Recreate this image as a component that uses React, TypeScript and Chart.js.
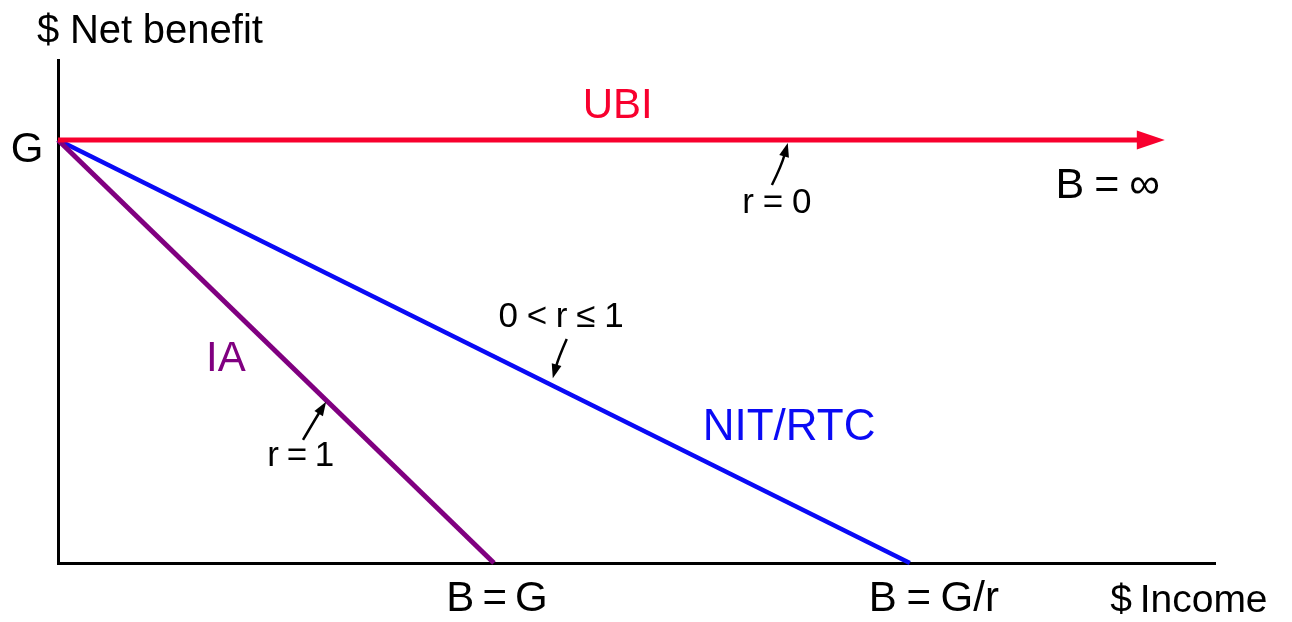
import React, { useEffect, useRef } from "react";
import { Chart, registerables } from "chart.js";

Chart.register(...registerables);

// ---- data (income and benefit in units of G) ----
const incomeAxisMax = 2.654;
const benefitAxisMax = 1.189;

const ubiIncome = [0, 2.477];
const ubiBenefit = [1, 1];
const iaIncome = [0, 1];
const iaBenefit = [1, 0];
const nitIncome = [0, 1.954];
const nitBenefit = [1, 0];

const seriesNames = ["UBI", "IA", "NIT/RTC"];
const seriesColors = ["#f8002e", "#800080", "#0a0af5"];

// text labels placed in data coordinates
const labelTexts = ["$ Net benefit", "G", "UBI", "B = \u221E", "r = 0", "0 < r \u2264 1", "IA", "NIT/RTC", "r = 1", "B = G", "B = G/r", "$ Income"];
const labelX = [-0.048, -0.071, 1.284, 2.408, 1.649, 1.154, 0.385, 1.677, 0.557, 1.007, 2.009, 2.594];
const labelY = [1.229, 0.948, 1.052, 0.863, 0.827, 0.558, 0.454, 0.291, 0.229, -0.113, -0.113, -0.116];
const labelColors = ["#000", "#000", "#f8002e", "#000", "#000", "#000", "#800080", "#0a0af5", "#000", "#000", "#000", "#000"];
const labelSizes = [40, 42, 42, 43, 35, 35, 42, 44, 35, 42, 42, 39];
const labelWordSpacing = [-0.5, 0, 0, -2, -1, -1, 0, 0, -2, -3.5, -2, -3];
const labelAlign = ["left", "center", "center", "center", "center", "center", "center", "center", "center", "center", "center", "center"];

// pointer arrows (tail -> tip), with a control point for a slight curve
const pointerTailX = [1.6376, 1.167, 0.562];
const pointerTailY = [0.8936, 0.5296, 0.291];
const pointerCtrlX = [1.660, 1.148, 0.590];
const pointerCtrlY = [0.940, 0.485, 0.340];
const pointerTipX = [1.674, 1.135, 0.615];
const pointerTipY = [0.993, 0.437, 0.381];

const toPoints = (xs: number[], ys: number[]) => xs.map((x, i) => ({ x, y: ys[i] }));

const FONT = "'Liberation Sans', Arial, Helvetica, sans-serif";

const annotationPlugin = {
  id: "annotations",
  afterDatasetsDraw(chart: any) {
    const ctx = chart.ctx as any;
    const xs = chart.scales.x;
    const ys = chart.scales.y;
    ctx.save();

    // arrowhead on UBI line
    const meta = chart.getDatasetMeta(0);
    const last = meta.data[meta.data.length - 1];
    const bx = last.x, by = last.y;
    ctx.fillStyle = seriesColors[0];
    ctx.beginPath();
    ctx.moveTo(bx - 1, by - 9.5);
    ctx.lineTo(bx + 27, by);
    ctx.lineTo(bx - 1, by + 9.5);
    ctx.closePath();
    ctx.fill();

    // pointer arrows
    ctx.strokeStyle = "#000";
    ctx.fillStyle = "#000";
    ctx.lineWidth = 2.5;
    for (let i = 0; i < pointerTailX.length; i++) {
      const tx = xs.getPixelForValue(pointerTailX[i]);
      const ty = ys.getPixelForValue(pointerTailY[i]);
      const cx = xs.getPixelForValue(pointerCtrlX[i]);
      const cy = ys.getPixelForValue(pointerCtrlY[i]);
      const px = xs.getPixelForValue(pointerTipX[i]);
      const py = ys.getPixelForValue(pointerTipY[i]);
      const ang = Math.atan2(py - cy, px - cx);
      const headLen = 14;
      const headW = 5;
      const hx = px - Math.cos(ang) * headLen;
      const hy = py - Math.sin(ang) * headLen;
      ctx.beginPath();
      ctx.moveTo(tx, ty);
      ctx.quadraticCurveTo(cx, cy, hx + Math.cos(ang) * 2, hy + Math.sin(ang) * 2);
      ctx.stroke();
      ctx.beginPath();
      ctx.moveTo(px, py);
      ctx.lineTo(hx - Math.sin(ang) * headW, hy + Math.cos(ang) * headW);
      ctx.lineTo(hx + Math.sin(ang) * headW, hy - Math.cos(ang) * headW);
      ctx.closePath();
      ctx.fill();
    }

    // text labels
    ctx.textBaseline = "alphabetic";
    for (let i = 0; i < labelTexts.length; i++) {
      ctx.font = `${labelSizes[i]}px ${FONT}`;
      ctx.fillStyle = labelColors[i];
      ctx.textAlign = labelAlign[i];
      if ("wordSpacing" in ctx) ctx.wordSpacing = `${labelWordSpacing[i]}px`;
      ctx.fillText(labelTexts[i], xs.getPixelForValue(labelX[i]), ys.getPixelForValue(labelY[i]));
    }
    ctx.restore();
  },
};

export default function App() {
  const ref = useRef<HTMLCanvasElement | null>(null);

  useEffect(() => {
    if (!ref.current) return;
    const chart = new Chart(ref.current, {
      type: "line",
      data: {
        datasets: [
          { label: seriesNames[0], data: toPoints(ubiIncome, ubiBenefit), borderColor: seriesColors[0], borderWidth: 5 },
          { label: seriesNames[1], data: toPoints(iaIncome, iaBenefit), borderColor: seriesColors[1], borderWidth: 5 },
          { label: seriesNames[2], data: toPoints(nitIncome, nitBenefit), borderColor: seriesColors[2], borderWidth: 4.5 },
        ],
      },
      options: {
        responsive: false,
        animation: false,
        clip: false as any,
        layout: { padding: { left: 58, top: 60, right: 77, bottom: 59 } },
        elements: { point: { radius: 0, hoverRadius: 0 }, line: { tension: 0, borderCapStyle: "butt" } },
        plugins: { legend: { display: false }, tooltip: { enabled: false } },
        scales: {
          x: {
            type: "linear",
            min: 0,
            max: incomeAxisMax,
            ticks: { display: false },
            grid: { display: false, drawTicks: false },
            border: { display: true, color: "#000", width: 3 },
          },
          y: {
            type: "linear",
            min: 0,
            max: benefitAxisMax,
            ticks: { display: false },
            grid: { display: false, drawTicks: false },
            border: { display: true, color: "#000", width: 3 },
          },
        },
      },
      plugins: [annotationPlugin],
    });
    return () => chart.destroy();
  }, []);

  return (
    <div style={{ position: "absolute", left: 0, top: 0, width: 1292, height: 622, background: "#fff" }}>
      <canvas ref={ref} width={1292} height={622} />
    </div>
  );
}
